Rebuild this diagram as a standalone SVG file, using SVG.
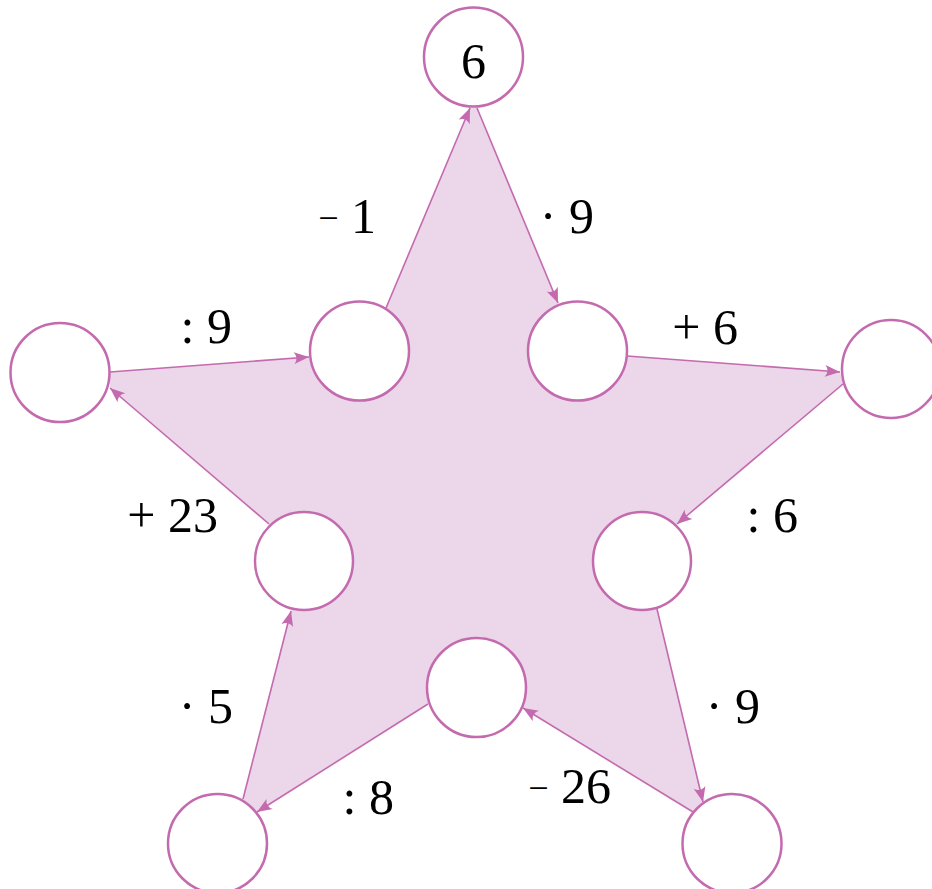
<svg xmlns="http://www.w3.org/2000/svg" width="932" height="889" viewBox="0 0 932 889">
<style>
.node circle{fill:#ffffff;stroke:#c46aae;stroke-width:2.5}
.edge{fill:none;stroke:#c46aae;stroke-width:1.6;marker-end:url(#arr)}
.lbl{font-family:"Liberation Serif","DejaVu Serif",serif;font-size:50px;fill:#000;text-anchor:end}
.num{font-family:"Liberation Serif","DejaVu Serif",serif;font-size:50px;fill:#000;text-anchor:middle}
.star{fill:#ebd6ea;stroke:none}
</style>
<defs>
<marker id="arr" markerUnits="userSpaceOnUse" markerWidth="20" markerHeight="16" viewBox="-16 -8 18 16" refX="0" refY="0" orient="auto">
<path d="M0,0 L-15,-6 Q-10,0 -15,6 Z" fill="#c46aae"/>
</marker>
</defs>
<polygon class="star" points="386,308 470,108 477,108 558,303 627,356 840,372 843,384 677,524 657,609 703,802 693,812 523,708 428,704 257,812 243,799 291,611 269,524 110,388 110,372 309,357"/>
<g id="connectors">
<line class="edge" x1="386" y1="308" x2="470" y2="108"/>
<line class="edge" x1="477" y1="108" x2="558" y2="303"/>
<line class="edge" x1="627" y1="356" x2="840" y2="372"/>
<line class="edge" x1="843" y1="384" x2="677" y2="524"/>
<line class="edge" x1="657" y1="609" x2="703" y2="802"/>
<line class="edge" x1="693" y1="812" x2="523" y2="708"/>
<line class="edge" x1="428" y1="704" x2="257" y2="812"/>
<line class="edge" x1="243" y1="799" x2="291" y2="611"/>
<line class="edge" x1="269" y1="524" x2="110" y2="388"/>
<line class="edge" x1="110" y1="372" x2="309" y2="357"/>
</g>
<g id="n-top" class="node"><circle cx="473.5" cy="57" r="49.5"/><text class="num" x="473.5" y="78">6</text></g>
<g id="n-inner-ul" class="node"><circle cx="359.5" cy="351" r="49.5"/></g>
<g id="n-inner-ur" class="node"><circle cx="577.5" cy="351" r="49.5"/></g>
<g id="n-left" class="node"><circle cx="60" cy="372.5" r="49.5"/></g>
<g id="n-right" class="node"><circle cx="891" cy="369" r="49"/></g>
<g id="n-inner-ll" class="node"><circle cx="304" cy="561" r="49"/></g>
<g id="n-inner-lr" class="node"><circle cx="642" cy="561" r="49"/></g>
<g id="n-inner-b" class="node"><circle cx="476.5" cy="687.5" r="49.5"/></g>
<g id="n-bl" class="node"><circle cx="217.5" cy="843.5" r="49.5"/></g>
<g id="n-br" class="node"><circle cx="732" cy="843.5" r="49.5"/></g>
<g id="labels">
<text class="lbl" x="376" y="233"><tspan font-size="36" dy="-3">−</tspan><tspan dy="3"> 1</tspan></text>
<text class="lbl" x="594" y="233">· 9</text>
<text class="lbl" x="232" y="343">: 9</text>
<text class="lbl" x="738" y="344">+ 6</text>
<text class="lbl" x="798" y="532">: 6</text>
<text class="lbl" x="218" y="532">+ 23</text>
<text class="lbl" x="233" y="723">· 5</text>
<text class="lbl" x="760" y="723">· 9</text>
<text class="lbl" x="394" y="814">: 8</text>
<text class="lbl" x="611" y="803"><tspan font-size="36" dy="-3">−</tspan><tspan dy="3"> 26</tspan></text>
</g>
</svg>
